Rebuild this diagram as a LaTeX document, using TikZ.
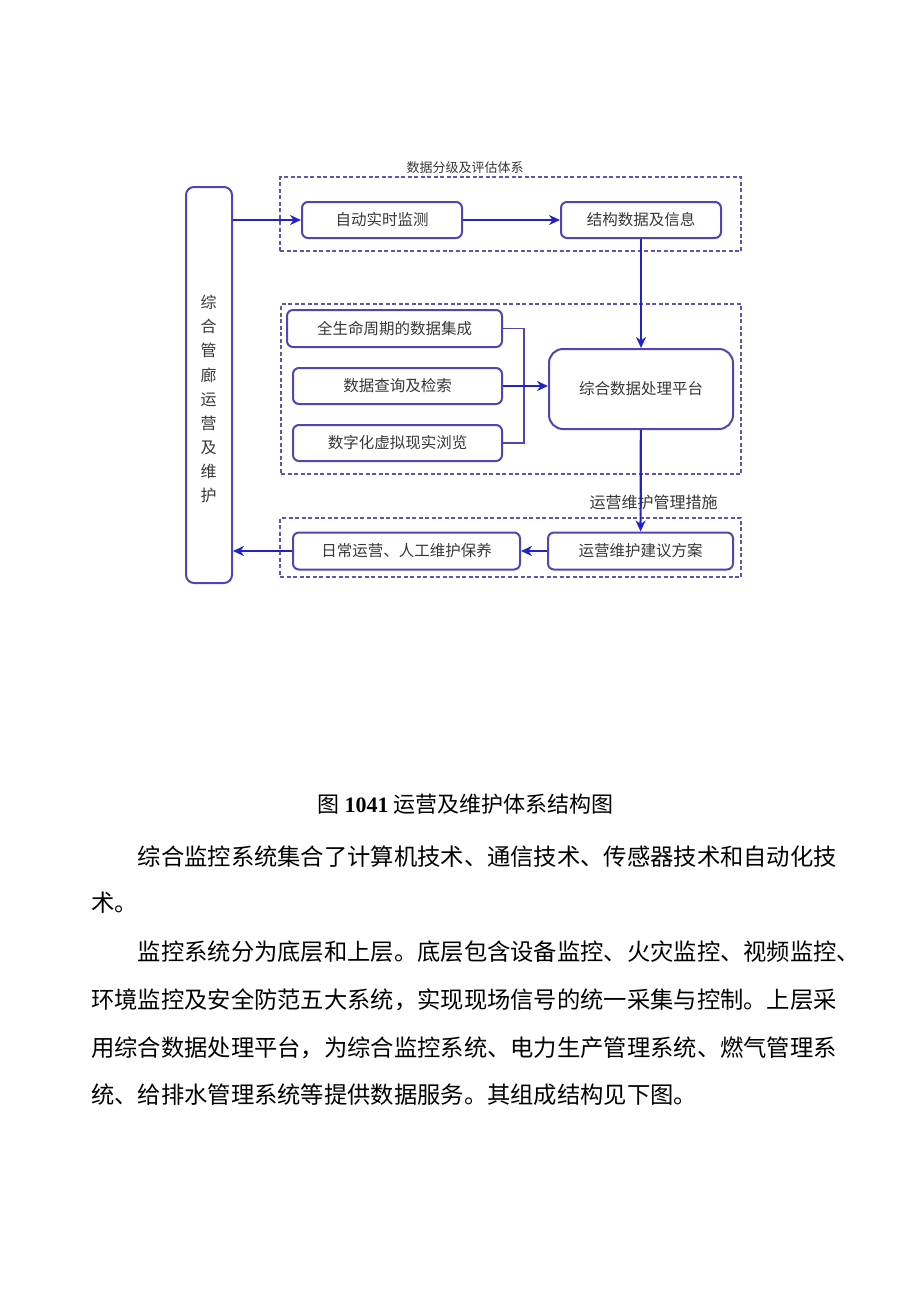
\documentclass[tikz,border=0pt]{standalone}
\usepackage{fontspec}
\setmainfont{Noto Sans CJK SC}
\newfontfamily\numfont{Liberation Serif}
\usepackage{tikz}
\usetikzlibrary{arrows.meta}
\definecolor{boxcol}{RGB}{82,68,178}
\definecolor{arrcol}{RGB}{34,34,200}
\definecolor{dashcol}{RGB}{92,86,178}
\definecolor{txtcol}{RGB}{55,55,55}
\tikzstyle{blk}=[draw=boxcol, line width=2pt, rounded corners=6pt, text=txtcol, inner sep=0pt, font=\fontsize{15.5}{18}\selectfont]
\tikzstyle{grp}=[draw=dashcol, line width=1.6pt, dash pattern=on 4pt off 2.5pt, inner sep=0pt]
\tikzstyle{flow}=[draw=arrcol, line width=2.2pt, -{Stealth[length=11pt,width=10pt]}]
\tikzstyle{bracketline}=[draw=boxcol, line width=1.8pt]
\tikzstyle{para}=[anchor=west, inner sep=0pt, font=\fontsize{23.3}{28}\selectfont]
\newcommand{\blk}{\node[blk]}
\newcommand{\grp}{\node[grp]}

\begin{document}
\begin{tikzpicture}[x=1pt, y=-1pt]
            \useasboundingbox (0,0) rectangle (920,1301);
            % dashed frames
            \grp (grpA) at (510.5,214) [minimum width=461, minimum height=74]{};
            \grp (grpB) at (511,389) [minimum width=460, minimum height=170]{};
            \grp (grpC) at (510.5,547.5) [minimum width=461, minimum height=59]{};
            \node (ttlA) at (465,168) [font=\fontsize{13}{15}\selectfont, text=txtcol]{数据分级及评估体系};
            \node (ttlC) at (653.5,502) [font=\fontsize{16}{18}\selectfont, text=txtcol]{运营维护管理措施};
            % blocks
            \blk (lbox) at (209,385) [minimum width=46, minimum height=396, rounded corners=8pt]{};
            \node (ltxt) at (208.5,399) [align=center, text=txtcol, font=\fontsize{16}{24.1}\selectfont]{综\\合\\管\\廊\\运\\营\\及\\维\\护};
            \blk (auto) at (382,220) [minimum width=160, minimum height=36]{自动实时监测};
            \blk (struct) at (641,220) [minimum width=160, minimum height=36]{结构数据及信息};
            \blk (life) at (394.5,328.5) [minimum width=215, minimum height=37]{全生命周期的数据集成};
            \blk (query) at (397.5,386) [minimum width=209, minimum height=36]{数据查询及检索};
            \blk (vr) at (397.5,443) [minimum width=209, minimum height=36]{数字化虚拟现实浏览};
            \blk (plat) at (641,389) [minimum width=184, minimum height=80, rounded corners=14pt]{综合数据处理平台};
            \blk (plan) at (640.5,551) [minimum width=185, minimum height=37]{运营维护建议方案};
            \blk (daily) at (406.5,551) [minimum width=227, minimum height=37]{日常运营、人工维护保养};
            \coordinate (bj) at (524,386);
            % connectors
            \draw[flow] (auto.west -| lbox.east) -- (auto.west);
            \draw[flow] (auto) -- (struct);
            \draw[flow] (struct) -- (plat);
            \draw[bracketline] (life.east) -| (bj) |- (vr.east);
            \draw[flow] (query.east) -- (query.east -| plat.west);
            \draw[flow] (plat) -- (plan);
            \draw[flow] (plan) -- (daily);
            \draw[flow] (daily.west) -- (daily.west -| lbox.east);
            % caption and text
            \node (cap) at (465.5,804) [font=\fontsize{22}{26}\selectfont]{图 {\numfont\bfseries 1041} 运营及维护体系结构图};
            \node (p1) at (137.6,857) [para]{综合监控系统集合了计算机技术、通信技术、传感器技术和自动化技};
            \node (p2) at (91,903) [para]{术。};
            \node (p3) at (137.6,952) [para]{监控系统分为底层和上层。底层包含设备监控、火灾监控、视频监控、};
            \node (p4) at (91,1000) [para]{环境监控及安全防范五大系统，实现现场信号的统一采集与控制。上层采};
            \node (p5) at (91,1048) [para]{用综合数据处理平台，为综合监控系统、电力生产管理系统、燃气管理系};
            \node (p6) at (91,1095) [para]{统、给排水管理系统等提供数据服务。其组成结构见下图。};
        \end{tikzpicture}
\end{document}
